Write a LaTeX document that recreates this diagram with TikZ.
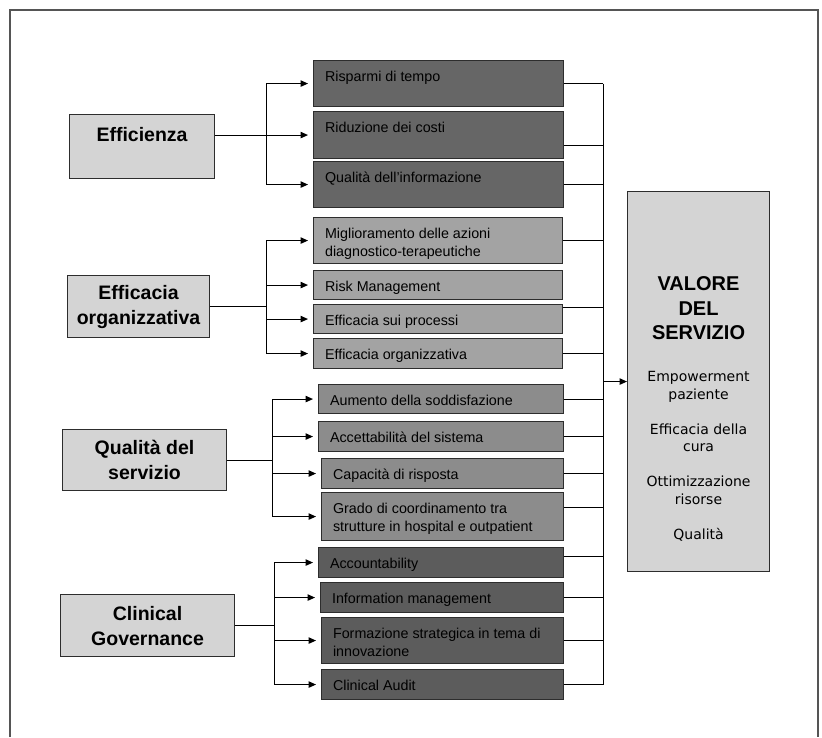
\documentclass[tikz,border=0pt]{standalone}
\usepackage{fontspec}
\setmainfont{Liberation Sans}
\newfontfamily\dejavu{DejaVu Sans}
\usetikzlibrary{arrows.meta,calc}
\definecolor{gA}{RGB}{102,102,102}
\definecolor{gB}{RGB}{163,163,163}
\definecolor{gC}{RGB}{140,140,140}
\definecolor{gD}{RGB}{92,92,92}
\definecolor{gL}{RGB}{212,212,212}
\definecolor{edgec}{RGB}{45,45,45}
\definecolor{framec}{RGB}{85,85,85}
\newcommand\bt[3]{\parbox[c][#2][t]{#1}{\fontsize{14.3}{18}\selectfont\strut #3}}
\tikzset{
  sub/.style={draw=edgec, line width=1.1pt, inner xsep=11.5pt, inner ysep=8pt, anchor=north west},
  mainbox/.style={draw=edgec, line width=1.1pt, fill=gL, align=center, anchor=north west,
    font=\bfseries\fontsize{19.5}{25}\selectfont, inner sep=0pt},
  link/.style={line width=1pt, draw=black},
  arr/.style={link, -{Triangle[length=7.5pt,width=6.5pt]}, shorten >=5pt},
  framel/.style={line width=1.6pt, draw=framec},
}
\begin{document}
\begin{tikzpicture}[x=1pt,y=-1pt]
\useasboundingbox (0,0) rectangle (822,737);
\draw[framel] (10,737) -- (10,10) -- (818,10) -- (818,737);

% left main boxes
\node[mainbox, minimum width=145pt, minimum height=64pt] (eff) at (69,114) {Efficienza\\\phantom{E}};
\node[mainbox, minimum width=142pt, minimum height=62pt] (eff2) at (67,275) {Efficacia\\organizzativa};
\node[mainbox, minimum width=164pt, minimum height=61pt] (qs) at (62,429) {Qualità del\\servizio};
\node[mainbox, minimum width=174pt, minimum height=62pt] (cg) at (60,594) {Clinical\\Governance};

% group 1
\node[sub, fill=gA] (r1) at (313,60)  {\bt{227pt}{30pt}{Risparmi di tempo}};
\node[sub, fill=gA] (r2) at (313,111) {\bt{227pt}{31pt}{Riduzione dei costi}};
\node[sub, fill=gA] (r3) at (313,161) {\bt{227pt}{30pt}{Qualità dell’informazione}};
% group 2
\node[sub, fill=gB] (m1) at (313,217) {\bt{226pt}{30pt}{Miglioramento delle azioni\\diagnostico-terapeutiche}};
\node[sub, fill=gB] (m2) at (313,270) {\bt{226pt}{13pt}{Risk Management}};
\node[sub, fill=gB] (m3) at (313,304) {\bt{226pt}{13pt}{Efficacia sui processi}};
\node[sub, fill=gB] (m4) at (313,338) {\bt{226pt}{14pt}{Efficacia organizzativa}};
% group 3
\node[sub, fill=gC] (q1) at (318,384) {\bt{222pt}{13pt}{Aumento della soddisfazione}};
\node[sub, fill=gC] (q2) at (318,421) {\bt{222pt}{14pt}{Accettabilità del sistema}};
\node[sub, fill=gC] (q3) at (321,458) {\bt{219pt}{14pt}{Capacità di risposta}};
\node[sub, fill=gC] (q4) at (321,492) {\bt{219pt}{32pt}{Grado di coordinamento tra\\strutture in hospital e outpatient}};
% group 4
\node[sub, fill=gD] (c1) at (318,547) {\bt{222pt}{14pt}{Accountability}};
\node[sub, fill=gD] (c2) at (320,582) {\bt{220pt}{14pt}{Information management}};
\node[sub, fill=gD] (c3) at (321,617) {\bt{219pt}{30pt}{Formazione strategica in tema di\\innovazione}};
\node[sub, fill=gD] (c4) at (321,669) {\bt{219pt}{14pt}{Clinical Audit}};

% right box
\node[draw=edgec, line width=1.1pt, fill=gL, inner sep=0pt, anchor=north west] (val) at (627,191)
 {\parbox[c][380pt][t]{142pt}{\centering\vspace*{82pt}%
   {\bfseries\fontsize{20}{24.5}\selectfont\strut VALORE\\DEL\\SERVIZIO\par}%
   \vspace{24.5pt}%
   {\dejavu\fontsize{14}{17.5}\selectfont Empowerment\\paziente\\[17.5pt]Efficacia della\\cura\\[17.5pt]Ottimizzazione\\risorse\\[17.5pt]Qualità\par}}};

% bracket coordinates
\coordinate (b1) at (266,0);
\coordinate (b2) at (266,0);
\coordinate (b3) at (272,0);
\coordinate (b4) at (274,0);
\coordinate (v) at (603,0);

% group 1 connectors
\draw[link] (b1 |- r1.west) -- (b1 |- r3.west);
\draw[arr] (b1 |- r1.west) -- (r1.west);
\draw[arr] (eff.east |- r2.west) -- (r2.west);
\draw[arr] (b1 |- r3.west) -- (r3.west);
% group 2
\draw[link] (eff2.east) -- (eff2.east -| b2);
\draw[link] (b2 |- m1.west) -- (b2 |- m4.west);
\foreach \n in {m1,m2,m3,m4} \draw[arr] (b2 |- \n.west) -- (\n.west);
% group 3
\draw[link] (qs.east) -- (qs.east -| b3);
\draw[link] (b3 |- q1.west) -- (b3 |- q4.west);
\foreach \n in {q1,q2,q3,q4} \draw[arr] (b3 |- \n.west) -- (\n.west);
% group 4
\draw[link] (cg.east) -- (cg.east -| b4);
\draw[link] (b4 |- c1.west) -- (b4 |- c4.west);
\foreach \n in {c1,c2,c3,c4} \draw[arr] (b4 |- \n.west) -- (\n.west);

% right collectors
\coordinate (r2o) at ($(r2.north east)!0.72!(r2.south east)$);
\coordinate (m3o) at ($(m3.north east)!0.1!(m3.south east)$);
\coordinate (q4o) at ($(q4.north east)!0.31!(q4.south east)$);
\coordinate (c1o) at ($(c1.north east)!0.3!(c1.south east)$);
\foreach \n in {r1.east,r2o,r3.east,m1.east,m3o,m4.east,q1.east,q2.east,q3.east,q4o,c1o,c2.east,c3.east,c4.east}
  \draw[link] (\n) -- (v |- \n);
\draw[link] (v |- r1.east) -- (v |- c4.east);
\draw[arr, shorten >=0pt] (v |- val.west) -- (val.west);
\end{tikzpicture}
\end{document}
